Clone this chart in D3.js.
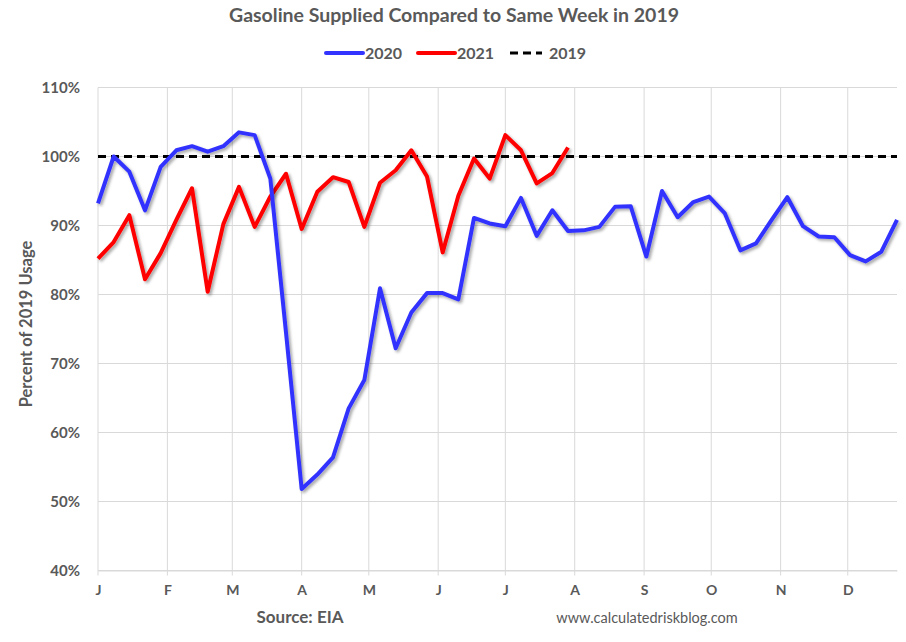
<!DOCTYPE html>
<html>
<head>
<meta charset="utf-8">
<script src="https://cdn.jsdelivr.net/npm/d3@7"></script>
<style>
  body { margin: 0; background: #fff; }
  svg text { font-family: Lato, "Open Sans", sans-serif; fill: #595959; }
</style>
</head>
<body>
<svg id="chart" width="906" height="642"></svg>
<script>
// weekly gasoline supplied, percent of same week in 2019
const values2020 = [93.2, 100.0, 97.8, 92.2, 98.5, 100.9, 101.5, 100.7, 101.5, 103.5,
  103.1, 96.8, 74.5, 51.8, 53.9, 56.4, 63.5, 67.6, 80.9, 72.2,
  77.4, 80.2, 80.2, 79.3, 91.1, 90.3, 89.9, 94.0, 88.5, 92.2,
  89.2, 89.3, 89.8, 92.7, 92.8, 85.5, 95.0, 91.2, 93.4, 94.2,
  91.8, 86.4, 87.4, 90.8, 94.1, 89.9, 88.4, 88.3, 85.7, 84.8,
  86.2, 90.8];
const values2021 = [85.2, 87.6, 91.5, 82.2, 86.0, 90.8, 95.4, 80.4, 90.2, 95.6,
  89.8, 94.2, 97.5, 89.5, 94.9, 97.0, 96.3, 89.8, 96.2, 98.0,
  100.9, 97.1, 86.1, 94.3, 99.7, 96.8, 103.1, 100.9, 96.1, 97.6,
  101.3];
const level2019 = 100;
const monthLabels = ["J", "F", "M", "A", "M", "J", "J", "A", "S", "O", "N", "D"];
const yTicks = [40, 50, 60, 70, 80, 90, 100, 110];

const firstWeek = new Date(2020, 0, 3);
const weeks = values2020.map((v, i) => d3.timeDay.offset(firstWeek, 7 * i));

const svg = d3.select("#chart");
const plotLeft = 98, plotRight = 897, plotTop = 87.5, plotBottom = 570.5;

const x = d3.scaleTime()
  .domain([weeks[0], weeks[weeks.length - 1]])
  .range([plotLeft, plotRight]);
const y = d3.scaleLinear().domain([40, 110]).range([plotBottom, plotTop]);

// shadow under the data lines
const defs = svg.append("defs");
defs.append("filter")
  .attr("id", "shadow")
  .attr("x", "-5%").attr("y", "-5%").attr("width", "110%").attr("height", "110%")
  .append("feDropShadow")
  .attr("dx", 2).attr("dy", 2).attr("stdDeviation", 1.6)
  .attr("flood-color", "#000").attr("flood-opacity", 0.35);

/* --------- GRID --------- */
const monthTicks = monthLabels.map((m, i) => d3.timeMonth.offset(firstWeek, i));

svg.append("g")
  .selectAll("line")
  .data(yTicks)
  .join("line")
  .attr("x1", plotLeft).attr("x2", plotRight)
  .attr("y1", d => y(d)).attr("y2", d => y(d))
  .attr("stroke", "#d9d9d9").attr("stroke-width", 1);

svg.append("g")
  .selectAll("line")
  .data(monthTicks)
  .join("line")
  .attr("x1", d => x(d)).attr("x2", d => x(d))
  .attr("y1", plotTop).attr("y2", plotBottom + 5)
  .attr("stroke", "#d9d9d9").attr("stroke-width", 1);

/* --------- AXES --------- */
const yAxis = svg.append("g")
  .attr("transform", `translate(${plotLeft},0)`)
  .call(d3.axisLeft(y).tickValues(yTicks).tickSize(0).tickPadding(18).tickFormat(d => d + "%"));
yAxis.select(".domain").remove();
yAxis.selectAll("text")
  .attr("font-size", 15).attr("font-weight", "bold");

const xAxis = svg.append("g")
  .attr("transform", `translate(0,${plotBottom})`)
  .call(d3.axisBottom(x).tickValues(monthTicks).tickSize(0).tickPadding(15)
    .tickFormat((d, i) => monthLabels[i]));
xAxis.select(".domain").attr("stroke", "#d9d9d9");
xAxis.selectAll("text")
  .attr("font-size", 14).attr("font-weight", "bold");

/* --------- LINES --------- */
const line = d3.line()
  .x((d, i) => x(weeks[i]))
  .y(d => y(d));

svg.append("path")
  .datum(weeks.map(() => level2019))
  .attr("d", line)
  .attr("fill", "none")
  .attr("stroke", "#000")
  .attr("stroke-width", 3)
  .attr("stroke-dasharray", "8,5");

svg.append("path")
  .datum(values2021)
  .attr("d", line)
  .attr("fill", "none")
  .attr("stroke", "#ff0000")
  .attr("stroke-width", 4)
  .attr("stroke-linejoin", "round")
  .attr("filter", "url(#shadow)");

svg.append("path")
  .datum(values2020)
  .attr("d", line)
  .attr("fill", "none")
  .attr("stroke", "#3333ff")
  .attr("stroke-width", 4)
  .attr("stroke-linejoin", "round")
  .attr("filter", "url(#shadow)");

/* --------- TEXTS --------- */
svg.append("text")
  .attr("x", 454).attr("y", 22)
  .attr("text-anchor", "middle")
  .attr("font-size", 19.5).attr("font-weight", "bold")
  .text("Gasoline Supplied Compared to Same Week in 2019");

const legend = [
  { label: "2020", color: "#3333ff", dash: null, x: 326 },
  { label: "2021", color: "#ff0000", dash: null, x: 418 },
  { label: "2019", color: "#000", dash: "8,5", x: 510 }
];
const lg = svg.append("g").selectAll("g").data(legend).join("g");
lg.append("line")
  .attr("x1", d => d.x).attr("x2", d => d.x + (d.dash ? 32 : 37))
  .attr("y1", 53).attr("y2", 53)
  .attr("stroke", d => d.color)
  .attr("stroke-width", d => d.dash ? 3 : 4)
  .attr("stroke-linecap", d => d.dash ? "butt" : "round")
  .attr("stroke-dasharray", d => d.dash);
lg.append("text")
  .attr("x", d => d.x + 39)
  .attr("y", 58.5)
  .attr("font-size", 16).attr("font-weight", "bold")
  .text(d => d.label);

svg.append("text")
  .attr("transform", "translate(32,324) rotate(-90)")
  .attr("text-anchor", "middle")
  .attr("font-size", 16.5).attr("font-weight", "bold")
  .text("Percent of 2019 Usage");

svg.append("text")
  .attr("x", 300).attr("y", 623)
  .attr("text-anchor", "middle")
  .attr("font-size", 17).attr("font-weight", "bold")
  .text("Source: EIA");

svg.append("text")
  .attr("x", 647).attr("y", 623)
  .attr("text-anchor", "middle")
  .attr("font-size", 14.5)
  .text("www.calculatedriskblog.com");
</script>
</body>
</html>
